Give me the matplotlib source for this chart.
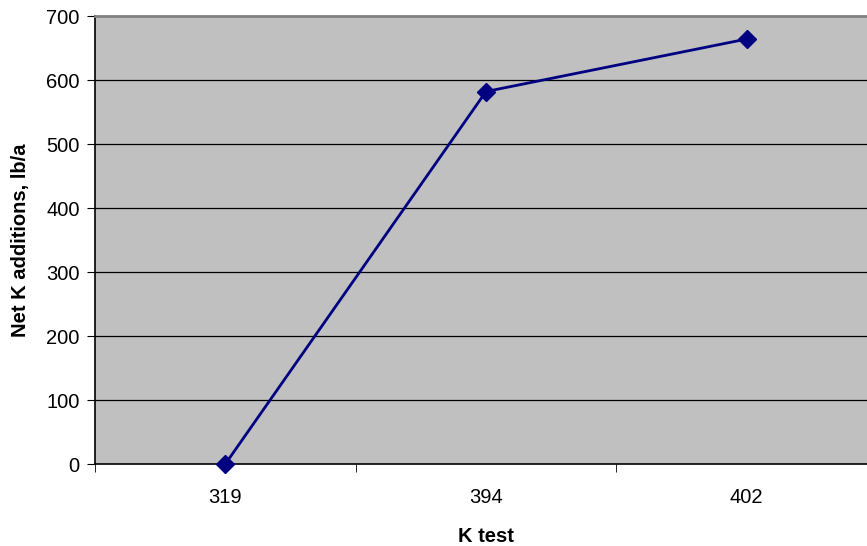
import matplotlib
matplotlib.use("Agg")
import matplotlib.pyplot as plt

categories = ["319", "394", "402"]
values = [0, 582, 664]
yticks = [0, 100, 200, 300, 400, 500, 600, 700]

plt.rcParams['font.family'] = ['Liberation Sans', 'DejaVu Sans']

fig = plt.figure(figsize=(8.67, 5.46), dpi=100)
W, H = 867, 546
ax = fig.add_axes([95 / W, (H - 464) / H, (877 - 95) / W, (464 - 16) / H])
ax.set_facecolor('#C0C0C0')

x = list(range(len(categories)))
ax.set_xlim(-0.5, len(categories) - 0.5)
ax.set_ylim(0, 700)

for yv in yticks[1:-1]:
    ax.axhline(yv, color='black', linewidth=0.9, zorder=1)

ax.plot(x, values, color='#000080', linewidth=2, marker='D', markersize=9,
        markerfacecolor='#000080', markeredgecolor='#000080', zorder=3, clip_on=False)

fs = 14.5
ax.set_yticks(yticks)
ax.set_yticklabels([str(v) for v in yticks], fontsize=fs)
ax.set_xticks(x)
ax.set_xticklabels(categories, fontsize=fs)
ax.tick_params(axis='x', length=0, pad=17)
ax.set_xticks([i - 0.5 for i in range(len(categories) + 1)], minor=True)
ax.tick_params(axis='x', which='minor', length=6, direction='out', color='black')
ax.tick_params(axis='y', length=6, direction='out', color='black', pad=5)

for s in ['left', 'bottom']:
    ax.spines[s].set_color('black')
    ax.spines[s].set_linewidth(1.2)
ax.spines['top'].set_color('#808080')
ax.spines['top'].set_linewidth(2)
ax.spines['right'].set_visible(False)

ax.set_xlabel("K test", fontsize=fs, fontweight='bold', labelpad=15)
ax.set_ylabel("Net K additions, lb/a", fontsize=fs, fontweight='bold', labelpad=12)

fig.savefig("out.png", dpi=100)
